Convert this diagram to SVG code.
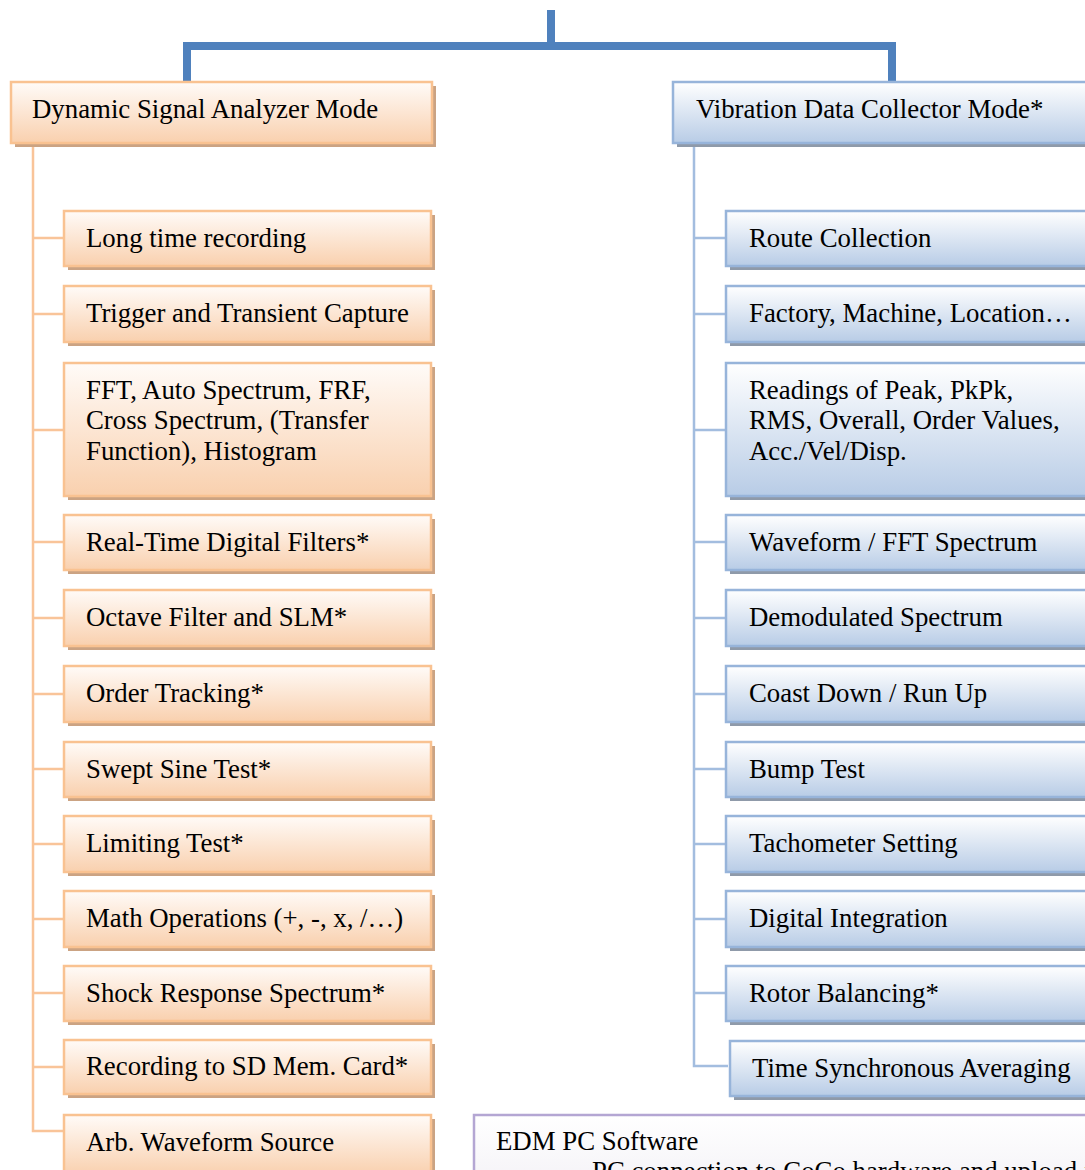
<svg xmlns="http://www.w3.org/2000/svg" width="1085" height="1170" viewBox="0 0 1085 1170">
<defs>
<linearGradient id="gO" x1="0" y1="0" x2="0" y2="1">
<stop offset="0" stop-color="#fffbf8"/>
<stop offset="1" stop-color="#f9d0ae"/>
</linearGradient>
<linearGradient id="gB" x1="0" y1="0" x2="0" y2="1">
<stop offset="0" stop-color="#ffffff"/>
<stop offset="1" stop-color="#b8cce6"/>
</linearGradient>
<linearGradient id="gP" x1="0" y1="0" x2="0" y2="1">
<stop offset="0" stop-color="#ffffff"/>
<stop offset="1" stop-color="#f3f1f6"/>
</linearGradient>
</defs>
<style>
text{font-family:"Liberation Serif","Times New Roman",serif;font-size:26.8px;fill:#000}
.o{fill:url(#gO);stroke:#f9c291;stroke-width:2.5}
.os{fill:#cba383}
.b{fill:url(#gB);stroke:#97b4da;stroke-width:2.5}
.bs{fill:#8f9aa9}
.p{fill:url(#gP);stroke:#b4a6d3;stroke-width:2.5}
.lo{stroke:#f9c499;stroke-width:2.5;fill:none}
.lb{stroke:#a3bddf;stroke-width:2.5;fill:none}
.top{stroke:#4f81bd;stroke-width:8;fill:none}
</style>
<g id="connectors">
<path class="top" d="M551 10 V46 M187 82 V46 H892 V82"/>
<path class="lo" d="M33 143 V1131 H64 M33 238 H63 M33 314 H63 M33 430 H63 M33 542 H63 M33 618 H63 M33 694 H63 M33 769 H63 M33 844 H63 M33 919 H63 M33 993 H63 M33 1067 H63"/>
<path class="lb" d="M694 143 V1066 H728 M694 238 H725 M694 314 H725 M694 430 H725 M694 542 H725 M694 618 H725 M694 694 H725 M694 769 H725 M694 844 H725 M694 919 H725 M694 993 H725"/>
</g>
<g id="dsa">
<rect class="os" x="15" y="86" width="421" height="61"/>
<rect class="o" x="11" y="82" width="421" height="61"/>
<text x="32" y="118">Dynamic Signal Analyzer Mode</text>
</g>
<g id="l1"><rect class="os" x="68" y="215" width="367" height="55"/><rect class="o" x="64" y="211" width="367" height="55"/><text x="86" y="247">Long time recording</text></g>
<g id="l2"><rect class="os" x="68" y="290" width="367" height="56"/><rect class="o" x="64" y="286" width="367" height="56"/><text x="86" y="322">Trigger and Transient Capture</text></g>
<g id="l3"><rect class="os" x="68" y="367" width="367" height="133"/><rect class="o" x="64" y="363" width="367" height="133"/><text x="86" y="399">FFT, Auto Spectrum, FRF,</text><text x="86" y="429">Cross Spectrum, (Transfer</text><text x="86" y="460">Function), Histogram</text></g>
<g id="l4"><rect class="os" x="68" y="519" width="367" height="55"/><rect class="o" x="64" y="515" width="367" height="55"/><text x="86" y="551">Real-Time Digital Filters*</text></g>
<g id="l5"><rect class="os" x="68" y="594" width="367" height="56"/><rect class="o" x="64" y="590" width="367" height="56"/><text x="86" y="626">Octave Filter and SLM*</text></g>
<g id="l6"><rect class="os" x="68" y="670" width="367" height="56"/><rect class="o" x="64" y="666" width="367" height="56"/><text x="86" y="702">Order Tracking*</text></g>
<g id="l7"><rect class="os" x="68" y="746" width="367" height="55"/><rect class="o" x="64" y="742" width="367" height="55"/><text x="86" y="778">Swept Sine Test*</text></g>
<g id="l8"><rect class="os" x="68" y="820" width="367" height="56"/><rect class="o" x="64" y="816" width="367" height="56"/><text x="86" y="852">Limiting Test*</text></g>
<g id="l9"><rect class="os" x="68" y="895" width="367" height="56"/><rect class="o" x="64" y="891" width="367" height="56"/><text x="86" y="927">Math Operations (+, -, x, /…)</text></g>
<g id="l10"><rect class="os" x="68" y="970" width="367" height="55"/><rect class="o" x="64" y="966" width="367" height="55"/><text x="86" y="1002">Shock Response Spectrum*</text></g>
<g id="l11"><rect class="os" x="68" y="1044" width="367" height="54"/><rect class="o" x="64" y="1040" width="367" height="54"/><text x="86" y="1075">Recording to SD Mem. Card*</text></g>
<g id="l12"><rect class="os" x="68" y="1119" width="367" height="60"/><rect class="o" x="64" y="1115" width="367" height="60"/><text x="86" y="1151">Arb. Waveform Source</text></g>
<g id="vdc">
<rect class="bs" x="677" y="86" width="430" height="61"/>
<rect class="b" x="673" y="82" width="430" height="61"/>
<text x="696" y="118">Vibration Data Collector Mode*</text>
</g>
<g id="r1"><rect class="bs" x="730" y="215" width="380" height="55"/><rect class="b" x="726" y="211" width="380" height="55"/><text x="749" y="247">Route Collection</text></g>
<g id="r2"><rect class="bs" x="730" y="290" width="380" height="56"/><rect class="b" x="726" y="286" width="380" height="56"/><text x="749" y="322">Factory, Machine, Location…</text></g>
<g id="r3"><rect class="bs" x="730" y="367" width="380" height="133"/><rect class="b" x="726" y="363" width="380" height="133"/><text x="749" y="399">Readings of Peak, PkPk,</text><text x="749" y="429">RMS, Overall, Order Values,</text><text x="749" y="460">Acc./Vel/Disp.</text></g>
<g id="r4"><rect class="bs" x="730" y="519" width="380" height="55"/><rect class="b" x="726" y="515" width="380" height="55"/><text x="749" y="551">Waveform / FFT Spectrum</text></g>
<g id="r5"><rect class="bs" x="730" y="594" width="380" height="56"/><rect class="b" x="726" y="590" width="380" height="56"/><text x="749" y="626">Demodulated Spectrum</text></g>
<g id="r6"><rect class="bs" x="730" y="670" width="380" height="56"/><rect class="b" x="726" y="666" width="380" height="56"/><text x="749" y="702">Coast Down / Run Up</text></g>
<g id="r7"><rect class="bs" x="730" y="746" width="380" height="55"/><rect class="b" x="726" y="742" width="380" height="55"/><text x="749" y="778">Bump Test</text></g>
<g id="r8"><rect class="bs" x="730" y="820" width="380" height="56"/><rect class="b" x="726" y="816" width="380" height="56"/><text x="749" y="852">Tachometer Setting</text></g>
<g id="r9"><rect class="bs" x="730" y="895" width="380" height="56"/><rect class="b" x="726" y="891" width="380" height="56"/><text x="749" y="927">Digital Integration</text></g>
<g id="r10"><rect class="bs" x="730" y="970" width="380" height="55"/><rect class="b" x="726" y="966" width="380" height="55"/><text x="749" y="1002">Rotor Balancing*</text></g>
<g id="r11"><rect class="bs" x="734" y="1045" width="380" height="55"/><rect class="b" x="730" y="1041" width="380" height="55"/><text x="752" y="1077">Time Synchronous Averaging</text></g>
<g id="edm">
<rect class="p" x="474" y="1115" width="640" height="80"/>
<text x="496" y="1150">EDM PC Software</text>
<text x="592" y="1180">PC connection to CoCo hardware and upload into PC</text>
</g>
</svg>
